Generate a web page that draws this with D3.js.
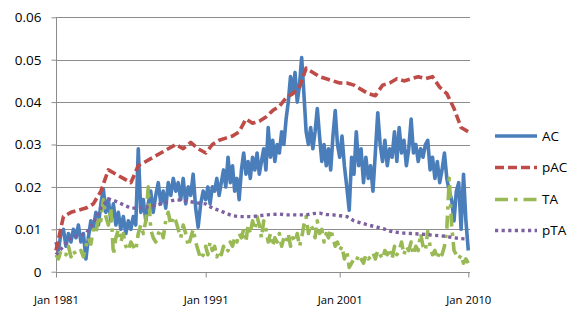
<!DOCTYPE html>
<html>
<head>
<meta charset="utf-8">
<script src="https://cdn.jsdelivr.net/npm/d3@7"></script>
<style>
  html, body { margin: 0; padding: 0; background: #fff; }
  svg { display: block; font-family: "Open Sans", "Liberation Sans", sans-serif; }
</style>
</head>
<body>
<svg id="chart" width="583" height="322"></svg>
<script>
// ---- Data ----
const seriesNames = ["AC", "pAC", "TA", "pTA"];
const yTicks = [0, 0.01, 0.02, 0.03, 0.04, 0.05, 0.06];
const yTickLabels = ["0", "0.01", "0.02", "0.03", "0.04", "0.05", "0.06"];
const xTickYears = [1981, 1991, 2001, 2010];
const xTickLabels = ["Jan 1981", "Jan 1991", "Jan 2001", "Jan 2010"];

// AC and TA: one value every 2 months from Jan 1981 to Jan 2010
const AC = [
  0.007,0.005,0.009,0.010,0.006,0.009,0.007,0.010,0.008,0.011,
  0.007,0.009,0.003,0.008,0.012,0.010,0.014,0.011,0.016,0.0195,
  0.014,0.017,0.012,0.016,0.011,0.014,0.010,0.013,0.009,0.012,
  0.010,0.013,0.011,0.029,0.014,0.017,0.012,0.016,0.019,0.014,
  0.018,0.021,0.016,0.019,0.015,0.021,0.018,0.022,0.019,0.021,
  0.017,0.022,0.016,0.020,0.018,0.023,0.015,0.0105,0.016,0.019,
  0.017,0.020,0.016,0.020,0.019,0.022,0.018,0.021,0.024,0.020,
  0.027,0.021,0.025,0.019,0.022,0.017,0.024,0.028,0.023,0.026,
  0.022,0.027,0.024,0.028,0.023,0.026,0.029,0.024,0.034,0.027,
  0.031,0.026,0.030,0.028,0.033,0.030,0.036,0.040,0.046,0.042,
  0.047,0.040,0.044,0.0505,0.042,0.033,0.030,0.034,0.029,0.033,
  0.0385,0.032,0.026,0.030,0.025,0.029,0.024,0.032,0.038,0.030,
  0.027,0.032,0.025,0.020,0.0145,0.027,0.023,0.033,0.025,0.029,
  0.021,0.027,0.022,0.025,0.019,0.028,0.0375,0.030,0.026,0.031,
  0.025,0.029,0.027,0.033,0.026,0.034,0.028,0.031,0.025,0.029,
  0.036,0.028,0.030,0.026,0.029,0.027,0.030,0.031,0.024,0.027,
  0.022,0.026,0.021,0.024,0.028,0.022,0.019,0.017,0.012,0.019,
  0.021,0.010,0.023,0.012,0.005
];
const TA = [
  0.004,0.003,0.005,0.0045,0.004,0.006,0.0035,0.005,0.004,0.0045,
  0.005,0.0035,0.006,0.008,0.0065,0.010,0.009,0.013,0.012,0.017,
  0.013,0.011,0.015,0.004,0.008,0.010,0.007,0.009,0.006,0.005,
  0.007,0.006,0.005,0.009,0.011,0.009,0.012,0.020,0.010,0.008,
  0.007,0.009,0.010,0.008,0.012,0.014,0.011,0.013,0.012,0.010,
  0.008,0.011,0.009,0.006,0.008,0.010,0.007,0.005,0.003,0.004,
  0.006,0.004,0.007,0.005,0.006,0.0035,0.005,0.004,0.006,0.0045,
  0.005,0.007,0.006,0.008,0.007,0.009,0.008,0.010,0.007,0.011,
  0.009,0.012,0.010,0.013,0.011,0.008,0.012,0.010,0.007,0.009,
  0.006,0.008,0.007,0.009,0.006,0.008,0.007,0.009,0.006,0.008,
  0.007,0.009,0.006,0.008,0.011,0.013,0.009,0.011,0.010,0.008,
  0.012,0.009,0.010,0.007,0.009,0.008,0.010,0.008,0.006,0.007,
  0.005,0.006,0.003,0.005,0.001,0.002,0.003,0.0025,0.004,0.003,
  0.002,0.004,0.003,0.0035,0.0045,0.003,0.005,0.004,0.003,0.005,
  0.004,0.0055,0.003,0.006,0.004,0.005,0.007,0.004,0.006,0.005,
  0.007,0.004,0.006,0.005,0.009,0.006,0.005,0.0095,0.006,0.004,
  0.005,0.003,0.005,0.004,0.006,0.010,0.022,0.011,0.005,0.004,
  0.003,0.004,0.002,0.003,0.002
];
// pAC and pTA: one value every 6 months from Jan 1981 to Jan 2010
const pAC = [
  0.005,0.013,0.014,0.0145,0.015,0.016,0.019,0.024,0.023,0.022,
  0.021,0.025,0.026,0.027,0.028,0.029,0.030,0.029,0.0305,0.029,
  0.028,0.030,0.031,0.0315,0.032,0.033,0.036,0.035,0.0355,0.0365,
  0.038,0.039,0.041,0.042,0.0435,0.048,0.047,0.046,0.0455,0.045,
  0.0445,0.0445,0.044,0.043,0.042,0.0415,0.044,0.0445,0.0455,0.045,
  0.0455,0.046,0.0455,0.046,0.0435,0.042,0.0385,0.034,0.033
];
const pTA = [
  0.004,0.006,0.008,0.0085,0.009,0.0115,0.015,0.0172,0.0166,0.0158,
  0.015,0.015,0.0152,0.0155,0.016,0.0165,0.017,0.0168,0.0165,0.0162,
  0.016,0.015,0.0145,0.0138,0.0132,0.013,0.013,0.013,0.0132,0.0134,
  0.0135,0.0136,0.0134,0.0134,0.0134,0.0134,0.0137,0.0138,0.0135,0.0134,
  0.0132,0.013,0.012,0.0115,0.011,0.0106,0.0102,0.0096,0.0093,0.0091,
  0.009,0.0089,0.0088,0.0086,0.0085,0.0083,0.008,0.0078,0.0077
];

const colors = { AC: "#4a7ebb", pAC: "#be4b48", TA: "#98b954", pTA: "#7d60a0" };
const dashes = { AC: null, pAC: "9 4", TA: "13 6 3.5 6", pTA: "3.2 3.4" };
const widths = { AC: 3.6, pAC: 3.6, TA: 3.6, pTA: 3.4 };

// ---- Scales ----
const svg = d3.select("#chart");
const x = d3.scaleTime()
  .domain(xTickYears.map(yr => new Date(yr, 0, 1)))
  .range([56, 205.7, 339.7, 468.3]);
const y = d3.scaleLinear().domain([0, 0.06]).range([271.7, 17.3]);
const plotLeft = 56, plotRight = 470;

const withDates = (arr, stepMonths) => arr.map((v, i) => ({ date: new Date(1981, i * stepMonths, 1), value: v }));
const data = {
  AC: withDates(AC, 2),
  pAC: withDates(pAC, 6),
  TA: withDates(TA, 2),
  pTA: withDates(pTA, 6)
};

// ---- Gridlines ----
svg.append("g").selectAll("line").data(yTicks.slice(1)).join("line")
  .attr("x1", plotLeft).attr("x2", plotRight)
  .attr("y1", d => Math.round(y(d)) + 0.5).attr("y2", d => Math.round(y(d)) + 0.5)
  .attr("stroke", "#8c8c8c").attr("stroke-width", 1);

// ---- Y axis ----
const yAxis = d3.axisLeft(y).tickValues(yTicks).tickSize(5)
  .tickFormat((d, i) => yTickLabels[i]).tickPadding(10);
const gy = svg.append("g").attr("transform", `translate(${plotLeft + 0.5},0)`).call(yAxis);
gy.select(".domain").attr("stroke", "#8c8c8c").attr("d", `M0,${y(0.06)}V${y(0)}`);
gy.selectAll(".tick line").attr("stroke", "#8c8c8c");
gy.selectAll(".tick text").attr("font-size", "13.5px").attr("fill", "#000")
  .attr("font-family", "'Open Sans', sans-serif");

// ---- X axis ----
const xAxis = d3.axisBottom(x).tickValues(xTickYears.map(yr => new Date(yr, 0, 1)))
  .tickSize(5).tickFormat((d, i) => xTickLabels[i]).tickPadding(18);
const gx = svg.append("g").attr("transform", `translate(0,${Math.round(y(0)) + 0.5})`).call(xAxis);
gx.select(".domain").attr("stroke", "#8c8c8c").attr("d", `M${plotLeft},0H${plotRight}`);
gx.selectAll(".tick line").attr("stroke", "#8c8c8c");
gx.selectAll(".tick text").attr("font-size", "11.3px").attr("fill", "#000")
  .attr("font-family", "'Open Sans', sans-serif");

// ---- Lines ----
const line = d3.line().x(d => x(d.date)).y(d => y(d.value));
seriesNames.forEach(name => {
  svg.append("path").datum(data[name])
    .attr("d", line)
    .attr("fill", "none")
    .attr("stroke", colors[name])
    .attr("stroke-width", widths[name])
    .attr("stroke-linejoin", "round")
    .attr("stroke-dasharray", dashes[name]);
});

// ---- Legend ----
const legendY = [136, 167.5, 199.5, 230.5];
const lg = svg.append("g");
seriesNames.forEach((name, i) => {
  lg.append("line")
    .attr("x1", 495).attr("x2", 537)
    .attr("y1", legendY[i]).attr("y2", legendY[i])
    .attr("stroke", colors[name]).attr("stroke-width", widths[name])
    .attr("stroke-dasharray", dashes[name]);
  lg.append("text")
    .attr("x", 542).attr("y", legendY[i]).attr("dy", "0.35em")
    .attr("font-size", "13.5px").attr("fill", "#000")
    .text(name);
});
</script>
</body>
</html>
